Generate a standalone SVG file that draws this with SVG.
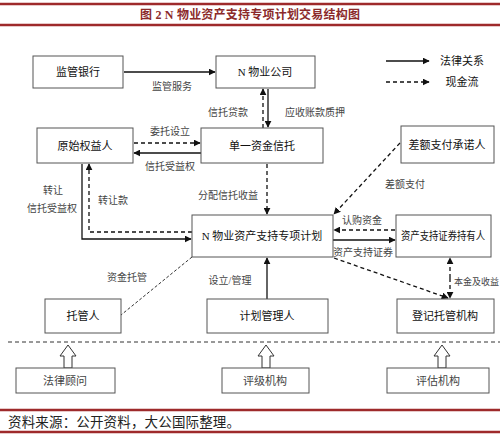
<svg xmlns="http://www.w3.org/2000/svg" width="500" height="435" viewBox="0 0 500 435">
<style>
.box{fill:#fff;stroke:#555;stroke-width:1}
.t{font-family:"Liberation Serif","Noto Sans CJK SC",serif;font-size:11px;fill:#111;text-anchor:middle;dominant-baseline:central}
.g{fill:#444}
.l{font-family:"Liberation Serif","Noto Sans CJK SC",serif;font-size:10px;fill:#444;text-anchor:middle;dominant-baseline:central}
.st{text-anchor:start;font-size:9px}
.s{stroke:#111;stroke-width:1.3;fill:none}
.d{stroke:#111;stroke-width:1.3;fill:none;stroke-dasharray:4,3}
.dt{stroke:#333;stroke-width:1;fill:none;stroke-dasharray:3,2}
.red{stroke:#9e2a2b;stroke-width:2.5}
.ho{fill:#fff;stroke:#333;stroke-width:1}
</style>
<defs>
<marker id="a" viewBox="0 0 10 10" refX="9" refY="5" markerWidth="7" markerHeight="7" orient="auto" markerUnits="userSpaceOnUse"><path d="M0,0 L10,5 L0,10 z" fill="#111"/></marker>
</defs>
<rect width="500" height="435" fill="#fff"/>
<line class="red" x1="0" y1="4" x2="500" y2="4"/>
<line class="red" x1="0" y1="25" x2="500" y2="25"/>
<text x="250" y="15" font-family="Liberation Serif,Noto Sans CJK SC,serif" font-size="12" font-weight="bold" fill="#8b2a2a" text-anchor="middle" dominant-baseline="central" textLength="220" lengthAdjust="spacing">图 2 N 物业资产支持专项计划交易结构图</text>

<g id="legend">
<line class="s" x1="386" y1="61" x2="429" y2="61" marker-end="url(#a)"/>
<text class="t" x="462" y="61" font-size="12">法律关系</text>
<line class="d" x1="386" y1="82" x2="429" y2="82" marker-end="url(#a)"/>
<text class="t" x="462" y="82" font-size="12">现金流</text>
</g>

<g id="connectors">
<line class="s" x1="124" y1="72" x2="215" y2="72" marker-end="url(#a)"/>
<line class="d" x1="263" y1="128" x2="263" y2="89" marker-end="url(#a)"/>
<line class="s" x1="268" y1="89" x2="268" y2="127" marker-end="url(#a)"/>
<line class="d" x1="134" y1="143" x2="200" y2="143" marker-end="url(#a)"/>
<line class="s" x1="201" y1="153" x2="134" y2="153" marker-end="url(#a)"/>
<line class="d" x1="267" y1="164" x2="267" y2="214" marker-end="url(#a)"/>
<polyline class="s" points="82,164 82,239 191,239" marker-end="url(#a)"/>
<polyline class="d" points="192,232 89,232 89,164" marker-end="url(#a)"/>
<line class="d" x1="400" y1="143" x2="334" y2="214" marker-end="url(#a)"/>
<line class="d" x1="395" y1="230" x2="334" y2="230" marker-end="url(#a)"/>
<line class="s" x1="333" y1="240" x2="395" y2="240" marker-end="url(#a)"/>
<line class="d" x1="334" y1="258" x2="448" y2="298" marker-end="url(#a)"/>
<line class="d" x1="450" y1="278" x2="450" y2="258" marker-end="url(#a)"/>
<line class="d" x1="450" y1="278" x2="450" y2="298" marker-end="url(#a)"/>
<line class="dt" x1="192" y1="257" x2="121" y2="315"/>
<line class="s" x1="267" y1="299" x2="267" y2="258" marker-end="url(#a)"/>
<line x1="8" y1="342" x2="500" y2="342" stroke="#333" stroke-width="1" stroke-dasharray="4,3"/>
<polygon class="ho" points="68,345 76,356 72,356 72,368 64,368 64,356 60,356"/>
<polygon class="ho" points="266,345 274,356 270,356 270,368 262,368 262,356 258,356"/>
<polygon class="ho" points="442,345 450,356 446,356 446,368 438,368 438,356 434,356"/>
</g>

<g id="labels">
<text class="l" x="172" y="86">监管服务</text>
<text class="l" x="228" y="112">信托贷款</text>
<text class="l" x="315" y="112">应收账款质押</text>
<text class="l" x="170" y="131">委托设立</text>
<text class="l" x="170" y="166">信托受益权</text>
<text class="l" x="53" y="190">转让</text>
<text class="l" x="52" y="208">信托受益权</text>
<text class="l" x="113" y="200">转让款</text>
<text class="l" x="228" y="195">分配信托收益</text>
<text class="l" x="405" y="184">差额支付</text>
<text class="l" x="362" y="220">认购资金</text>
<text class="l" x="363" y="252">资产支持证券</text>
<text class="l" x="127" y="277">资金托管</text>
<text class="l" x="230" y="280">设立/管理</text>
<text class="l st" x="454" y="282">本金及收益</text>
</g>

<g id="n1"><rect class="box" x="33" y="56" width="90" height="32"/><text class="t" x="78" y="72">监管银行</text></g>
<g id="n2"><rect class="box" x="216" y="56" width="99" height="32"/><text class="t" x="265" y="72">N 物业公司</text></g>
<g id="n3"><rect class="box" x="37" y="128" width="96" height="35"/><text class="t" x="85" y="146">原始权益人</text></g>
<g id="n4"><rect class="box" x="201" y="128" width="122" height="35"/><text class="t" x="262" y="146">单一资金信托</text></g>
<g id="n5"><rect class="box" x="401" y="126" width="93" height="37"/><text class="t" x="447" y="145">差额支付承诺人</text></g>
<g id="n6"><rect class="box" x="192" y="215" width="141" height="42"/><text class="t" x="262" y="236">N 物业资产支持专项计划</text></g>
<g id="n7"><rect class="box" x="396" y="215" width="95" height="42"/><text class="t" x="443" y="236" textLength="84" lengthAdjust="spacingAndGlyphs">资产支持证券持有人</text></g>
<g id="n8"><rect class="box" x="45" y="299" width="76" height="34"/><text class="t" x="83" y="316">托管人</text></g>
<g id="n9"><rect class="box" x="207" y="299" width="121" height="34"/><text class="t" x="267" y="316">计划管理人</text></g>
<g id="n10"><rect class="box" x="397" y="299" width="97" height="34"/><text class="t" x="445" y="316">登记托管机构</text></g>
<g id="n11"><rect class="box" x="16" y="368" width="99" height="25"/><text class="t g" x="65" y="381">法律顾问</text></g>
<g id="n12"><rect class="box" x="222" y="368" width="87" height="25"/><text class="t g" x="265" y="381">评级机构</text></g>
<g id="n13"><rect class="box" x="387" y="368" width="102" height="25"/><text class="t g" x="438" y="381">评估机构</text></g>

<line class="red" x1="0" y1="410" x2="500" y2="410"/>
<text x="8" y="422" font-family="Liberation Serif,Noto Sans CJK SC,serif" font-size="13.5" fill="#222" dominant-baseline="central" textLength="232" lengthAdjust="spacing">资料来源：公开资料，大公国际整理。</text>
<line class="red" x1="0" y1="432" x2="500" y2="432"/>
</svg>
